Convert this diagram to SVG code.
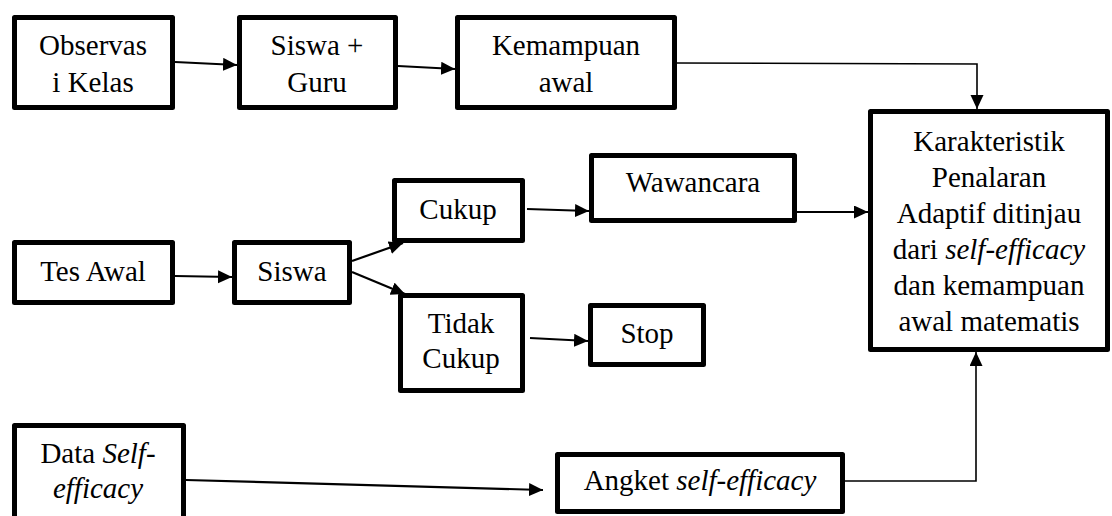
<svg xmlns="http://www.w3.org/2000/svg" width="1112" height="516" viewBox="0 0 1112 516" font-family="Liberation Serif, Times New Roman, serif">
<style>
.box{fill:#fff;stroke:#000;stroke-width:5;stroke-linejoin:round}
.t{font-size:29px;fill:#000;text-anchor:middle}
.i{font-style:italic}
.c{fill:none;stroke:#000;stroke-width:2.2}
.ct{fill:none;stroke:#000;stroke-width:1.6}
</style>
<defs>
<marker id="ah" markerUnits="userSpaceOnUse" markerWidth="16" markerHeight="14" refX="14" refY="6.5" orient="auto">
<path d="M0,0 L14,6.5 L0,13 z" fill="#000"/>
</marker>
</defs>
<rect width="1112" height="516" fill="#fff"/>
<g id="connectors">
<line class="c" x1="175" y1="62" x2="237" y2="65" marker-end="url(#ah)"/>
<line class="c" x1="398" y1="66" x2="455" y2="69" marker-end="url(#ah)"/>
<polyline class="ct" points="677,63 977,64 977,109" marker-end="url(#ah)"/>
<line class="c" x1="175" y1="276" x2="232" y2="277" marker-end="url(#ah)"/>
<line class="c" x1="352" y1="261" x2="403" y2="243" marker-end="url(#ah)"/>
<line class="c" x1="352" y1="272" x2="405" y2="294" marker-end="url(#ah)"/>
<line class="c" x1="527" y1="209" x2="589" y2="211" marker-end="url(#ah)"/>
<line class="c" x1="797" y1="212" x2="868" y2="212" marker-end="url(#ah)"/>
<line class="c" x1="530" y1="338" x2="588" y2="341" marker-end="url(#ah)"/>
<line class="c" x1="186" y1="480" x2="543" y2="490" marker-end="url(#ah)"/>
<polyline class="ct" points="845,481 976,481 976,352" marker-end="url(#ah)"/>
</g>
<g id="observasi">
<rect class="box" x="14.5" y="17.5" width="158" height="90"/>
<text class="t" x="93" y="55" font-family="Liberation Serif, serif">Observas</text>
<text class="t" x="93" y="92" font-family="Liberation Serif, serif">i Kelas</text>
</g>
<g id="siswa-guru">
<rect class="box" x="239.5" y="17.5" width="156" height="90"/>
<text class="t" x="317" y="55" font-family="Liberation Serif, serif">Siswa +</text>
<text class="t" x="317" y="92" font-family="Liberation Serif, serif">Guru</text>
</g>
<g id="kemampuan">
<rect class="box" x="457.5" y="17.5" width="217" height="90"/>
<text class="t" x="566" y="55" font-family="Liberation Serif, serif">Kemampuan</text>
<text class="t" x="566" y="92" font-family="Liberation Serif, serif">awal</text>
</g>
<g id="karakteristik" font-family="Liberation Serif, serif">
<rect class="box" x="870.5" y="111.5" width="237" height="238"/>
<text class="t" x="989" y="151">Karakteristik</text>
<text class="t" x="989" y="187">Penalaran</text>
<text class="t" x="989" y="223">Adaptif ditinjau</text>
<text class="t" x="989" y="259">dari <tspan class="i">self-efficacy</tspan></text>
<text class="t" x="989" y="295">dan kemampuan</text>
<text class="t" x="989" y="331">awal matematis</text>
</g>
<g id="tes-awal" font-family="Liberation Serif, serif">
<rect class="box" x="14.5" y="242.5" width="158" height="60"/>
<text class="t" x="93" y="281">Tes Awal</text>
</g>
<g id="siswa" font-family="Liberation Serif, serif">
<rect class="box" x="234.5" y="242.5" width="115" height="60"/>
<text class="t" x="292" y="281">Siswa</text>
</g>
<g id="cukup" font-family="Liberation Serif, serif">
<rect class="box" x="394.5" y="180.5" width="128" height="60"/>
<text class="t" x="458" y="219">Cukup</text>
</g>
<g id="wawancara" font-family="Liberation Serif, serif">
<rect class="box" x="591.5" y="155.5" width="203" height="65"/>
<text class="t" x="693" y="192">Wawancara</text>
</g>
<g id="tidak-cukup" font-family="Liberation Serif, serif">
<rect class="box" x="400.5" y="295.5" width="122" height="95"/>
<text class="t" x="461" y="333">Tidak</text>
<text class="t" x="461" y="368">Cukup</text>
</g>
<g id="stop" font-family="Liberation Serif, serif">
<rect class="box" x="590.5" y="305.5" width="113" height="59"/>
<text class="t" x="647" y="343">Stop</text>
</g>
<g id="data-self-efficacy" font-family="Liberation Serif, serif">
<rect class="box" x="14.5" y="425.5" width="169" height="100"/>
<text class="t" x="98" y="463">Data <tspan class="i">Self-</tspan></text>
<text class="t i" x="98" y="498">efficacy</text>
</g>
<g id="angket" font-family="Liberation Serif, serif">
<rect class="box" x="557.5" y="454.5" width="285" height="57"/>
<text class="t" x="700" y="490">Angket <tspan class="i">self-efficacy</tspan></text>
</g>
</svg>
